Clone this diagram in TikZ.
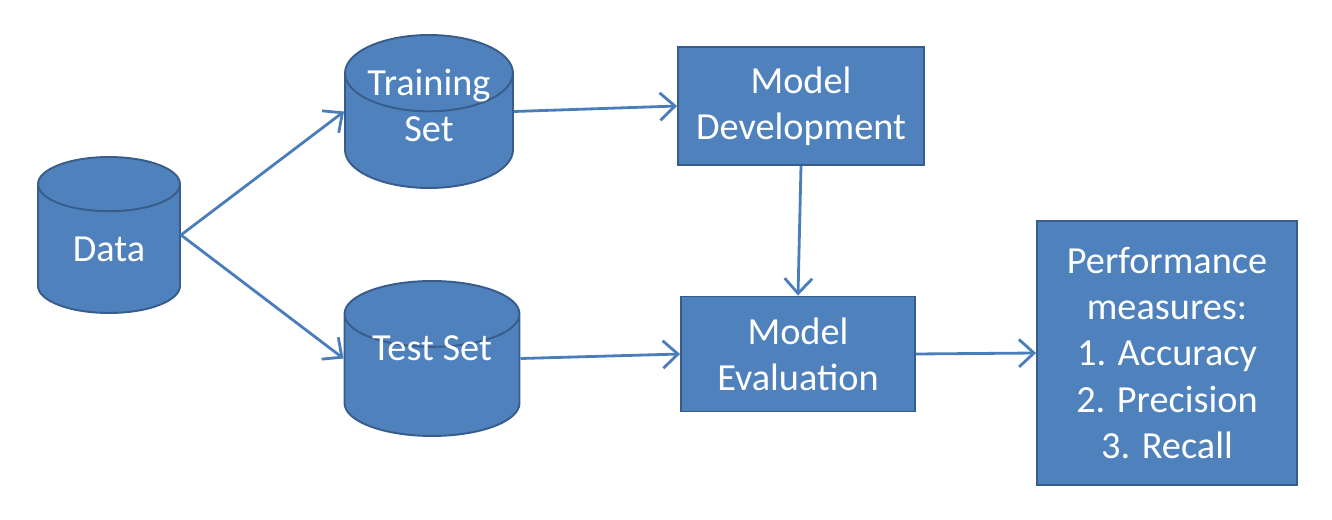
\documentclass[tikz,border=0pt]{standalone}
\usepackage{fontspec}
\setmainfont{Carlito}
\usetikzlibrary{arrows.meta,positioning,shapes.geometric}

\definecolor{boxfill}{HTML}{4F81BD}
\definecolor{boxline}{HTML}{385D8A}
\definecolor{flowline}{HTML}{4A7EBB}

% lift a label inside its can without changing the can
\newcommand{\liftlabel}[2]{\raisebox{#1}[0.5cm][0pt]{\begin{tabular}{@{}c@{}}#2\end{tabular}}}

\begin{document}
\begin{tikzpicture}[x=0.02cm,y=-0.02cm,
    every node/.style={font=\fontsize{21.8}{26.2}\selectfont, text=white, align=center},
    can/.style={cylinder, shape border rotate=90, anchor=shape center, draw=boxline, fill=boxfill, line width=1.1pt, inner sep=0pt},
    stage/.style={rectangle, draw=boxline, fill=boxfill, line width=1.1pt, inner sep=0pt},
    flow/.style={-{Straight Barb[length=3mm,width=5.5mm]}, draw=flowline, line width=1.6pt}]
  \useasboundingbox (0,0) rectangle (1332,520);
  % the stores
  \node (data)  [can, aspect=0.75, minimum width=2.84cm, minimum height=3.12cm] at (109,235) {Data};
  \node (train) [can, aspect=0.62, minimum width=3.36cm, minimum height=3.06cm] at (429,111.5)
    {\liftlabel{0.5cm}{Training\\Set}};
  \node (test)  [can, aspect=0.55, minimum width=3.5cm, minimum height=3.1cm] at (432,358.5)
    {\liftlabel{0.56cm}{Test Set}};
  % the steps
  \node (dev)   [stage, minimum width=4.92cm, minimum height=2.36cm] at (801,106) {Model\\Development};
  \node (eval)  [stage, minimum width=4.68cm, minimum height=2.3cm]  at (798,354) {Model\\Evaluation};
  \node (perf)  [stage, minimum width=5.2cm, minimum height=5.28cm]  at (1167,353)
    {Performance\\measures:\\1. Accuracy\\2. Precision\\3. Recall};
  \draw[flow] (data.shape center -| data.east) -- (train.shape center -| train.west);
  \draw[flow] (data.shape center -| data.east) -- (test.shape center -| test.west);
  \draw[flow] (train.shape center -| train.east) -- (dev.west);
  \draw[flow] (test.shape center -| test.east) -- (eval.west);
  \draw[flow] (dev.south) -- (eval.north);
  \draw[flow] (eval.east) -- (perf.west);
\end{tikzpicture}
\end{document}
